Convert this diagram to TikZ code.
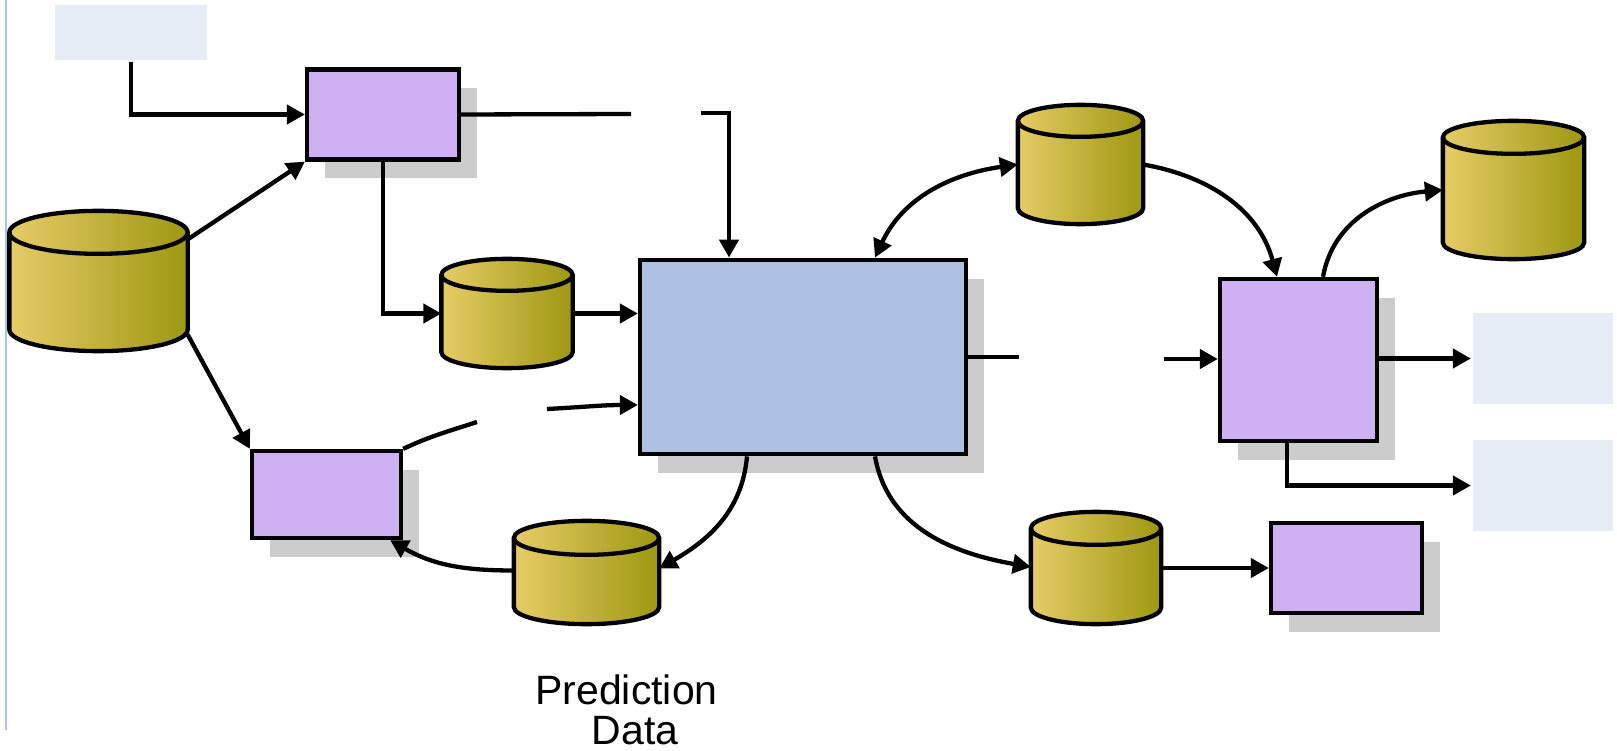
\documentclass[tikz,border=0pt]{standalone}
\usepackage{fontspec}
\setmainfont{Liberation Sans}
\usetikzlibrary{positioning,calc,shadows,arrows.meta}

\definecolor{procfill}{RGB}{207,176,242}
\definecolor{mainfill}{RGB}{173,194,227}
\definecolor{notefill}{RGB}{230,237,247}
\definecolor{shadowgray}{RGB}{204,204,204}
\definecolor{dbleft}{RGB}{230,204,102}
\definecolor{dbright}{RGB}{158,152,18}
\definecolor{marginline}{RGB}{172,194,234}

% cylinder drawn over a named node: #1 node, #2 depth of the end ellipses
\newcommand{\drawdb}[2]{%
	\path[draw,left color=dbleft,right color=dbright]
		let \p1=(#1.north west), \p2=(#1.south east), \n1={(\x2-\x1)/2} in
		(\x1,\y1-#2pt) -- (\x1,\y2+#2pt) arc[start angle=180,end angle=360,x radius=\n1,y radius=#2pt]
		-- (\x2,\y1-#2pt) arc[start angle=0,end angle=180,x radius=\n1,y radius=#2pt] -- cycle;
	\draw let \p1=(#1.north west), \p2=(#1.south east), \n1={(\x2-\x1)/2} in
		(\x1,\y1-#2pt) arc[start angle=180,end angle=360,x radius=\n1,y radius=#2pt];}

\begin{document}
\begin{tikzpicture}[x=1pt,y=1pt,>={Triangle[length=18pt,width=19pt]},line width=4.3pt,
	proc/.style={draw,fill=procfill,inner sep=0pt,drop shadow={shadow xshift=18pt,shadow yshift=-19pt,fill=shadowgray,opacity=1}},
	engine/.style={proc,fill=mainfill},
	note/.style={fill=notefill,inner sep=0pt},
	db/.style={inner sep=0pt},]
	\useasboundingbox (0,0) rectangle (1617,-751);
	\draw[marginline,line width=2pt] (6,0) -- (6,-730);

	% create the nodes
	\node (note1) [note,minimum width=152,minimum height=55] at (131,-32.5) {};
	\node (proc1) [proc,minimum width=152,minimum height=90] at (383,-114.5) {};
	\node (bigdb) [db,minimum width=174,minimum height=136] at (98.5,-281) {};
	\node (db2) [db,minimum width=127,minimum height=105] at (507,-313.5) {};
	\node (main) [engine,minimum width=326,minimum height=194.5] at (803,-357) {};
	\node (proc2) [proc,minimum width=149,minimum height=87] at (326.5,-494.5) {};
	\node (db6) [db,minimum width=141,minimum height=99] at (586.5,-572.5) {};
	\node (db3) [db,minimum width=121,minimum height=115] at (1080.5,-164.5) {};
	\node (proc3) [proc,minimum width=157,minimum height=162] at (1298.5,-360) {};
	\node (db4) [db,minimum width=137,minimum height=134] at (1513.5,-190) {};
	\node (db5) [db,minimum width=126,minimum height=108] at (1096,-568) {};
	\node (proc4) [proc,minimum width=151,minimum height=90] at (1346.5,-568) {};
	\node (note2) [note,minimum width=140,minimum height=91] at (1543,-358.5) {};
	\node (note3) [note,minimum width=140,minimum height=91] at (1543,-485.5) {};
	\node (predlbl) [align=center,font=\fontsize{41}{40}\selectfont] at (626.5,-710) {Prediction\\\hspace*{17pt}Data};

	\drawdb{bigdb}{21.5}
	\drawdb{db2}{16}
	\drawdb{db6}{17}
	\drawdb{db3}{16}
	\drawdb{db4}{16.5}
	\drawdb{db5}{16.5}

	\coordinate (gapA) at (631,-114);
	\coordinate (gapB) at (701,-113);
	\coordinate (gapC) at (477,-422);
	\coordinate (gapD) at (547,-409);
	\coordinate (gapE) at (1019,-357);
	\coordinate (gapF) at (1164,-359);

	% connect the nodes
	\draw[->] (note1.south) |- (proc1.west);
	\draw[->] (bigdb.25) -- (proc1.south west);
	\draw[->] (bigdb.-31) -- (proc2.north west);
	\draw (proc1.east) -- (gapA);
	\draw[->] (gapB) -| ([xshift=-74pt]main.north);
	\draw[->] (proc1.south) |- (db2.west);
	\draw[->] (db2.east) -- (db2.east -| main.west);
	\draw (proc2.north east) to[out=25,in=198] (gapC);
	\draw[->] (gapD) to[out=3,in=180] ([yshift=-48pt]main.west);
	\draw (main.east) -- (gapE);
	\draw[->] (gapF) -- (gapF -| proc3.west);
	\draw[->] (proc3.east |- note2.west) -- (note2.west);
	\draw[->] ([xshift=-11.5pt]proc3.south) |- (note3.west);
	\draw[->] (db5.east) -- (db5.east -| proc4.west);
	\draw[<->] ([xshift=72pt]main.north) to[out=65,in=188] (db3.west);
	\draw[->] (db3.east) to[out=-10,in=105] ([xshift=-21.5pt]proc3.north);
	\draw[->] ([xshift=24.5pt]proc3.north) to[out=80,in=185] (db4.west);
	\draw[->] ([xshift=-56pt]main.south) to[out=-95,in=30] ([yshift=4pt]db6.east);
	\draw[->] ([yshift=2pt]db6.west) to[out=180,in=-30] ([xshift=-13pt]proc2.south east);
	\draw[->] ([xshift=72pt]main.south) to[out=-80,in=170] ([yshift=1pt]db5.west);
\end{tikzpicture}
\end{document}
